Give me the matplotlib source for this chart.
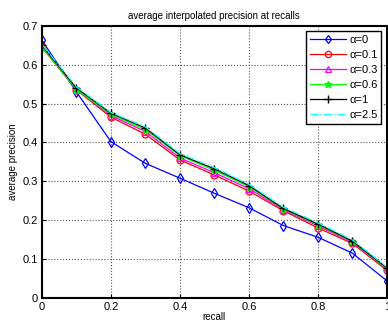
import matplotlib
matplotlib.use("Agg")
import matplotlib.pyplot as plt

plt.rcParams['font.family'] = ['Liberation Sans', 'DejaVu Sans']

recall = [0, 0.1, 0.2, 0.3, 0.4, 0.5, 0.6, 0.7, 0.8, 0.9, 1.0]
p_a0 = [0.663, 0.530, 0.402, 0.346, 0.308, 0.269, 0.232, 0.186, 0.156, 0.115, 0.044]
p_a01 = [0.645, 0.535, 0.465, 0.421, 0.355, 0.316, 0.275, 0.224, 0.180, 0.140, 0.071]
p_a03 = [0.647, 0.537, 0.469, 0.428, 0.360, 0.322, 0.281, 0.227, 0.185, 0.143, 0.074]
p_a06 = [0.646, 0.536, 0.472, 0.433, 0.366, 0.328, 0.286, 0.229, 0.188, 0.145, 0.075]
p_a1 = [0.650, 0.540, 0.475, 0.437, 0.368, 0.332, 0.289, 0.230, 0.190, 0.146, 0.077]
p_a25 = [0.652, 0.543, 0.477, 0.440, 0.371, 0.335, 0.292, 0.233, 0.193, 0.149, 0.079]
labels = ['α=0', 'α=0.1', 'α=0.3', 'α=0.6', 'α=1', 'α=2.5']
xticks = [0, 0.2, 0.4, 0.6, 0.8, 1]
yticks = [0, 0.1, 0.2, 0.3, 0.4, 0.5, 0.6, 0.7]

fig = plt.figure(figsize=(3.88, 3.23), dpi=100)
ax = fig.add_axes([0.108, 0.078, 0.889, 0.842])

ax.plot(recall, p_a0, color='blue', marker='d', mfc='none', ms=5, mew=0.9, lw=0.9, label=labels[0])
ax.plot(recall, p_a01, color='red', marker='o', mfc='none', ms=5, mew=0.9, lw=0.9, label=labels[1])
ax.plot(recall, p_a03, color='magenta', marker='^', mfc='none', ms=5, mew=0.9, lw=0.9, label=labels[2])
ax.plot(recall, p_a06, color='#00ff00', marker='*', ms=5, lw=0.9, label=labels[3])
ax.plot(recall, p_a1, color='black', marker='+', ms=6, mew=1.0, lw=0.9, label=labels[4])
ax.plot(recall, p_a25, color='cyan', ls='-.', lw=0.9, label=labels[5])

ax.set_xlim(0, 1)
ax.set_ylim(0, 0.7)
ax.set_xticks(xticks)
ax.set_xticklabels(['0', '0.2', '0.4', '0.6', '0.8', '1'])
ax.set_yticks(yticks)
ax.set_yticklabels(['0', '0.1', '0.2', '0.3', '0.4', '0.5', '0.6', '0.7'])
ax.tick_params(labelsize=8, direction='in', length=3, width=0.8, pad=3)
ax.grid(True, ls=':', color='#555555', lw=0.8)
for s in ax.spines.values():
    s.set_linewidth(1.5)
ax.set_title('average interpolated precision at recalls', fontsize=7, pad=5)
ax.set_xlabel('recall', fontsize=7, labelpad=0)
ax.set_ylabel('average precision', fontsize=7, labelpad=3)

leg = ax.legend(loc='upper right', fontsize=8, handlelength=3.2, fancybox=False,
                framealpha=1, edgecolor='black', borderpad=0.35, labelspacing=0.45,
                handletextpad=0.3, borderaxespad=0.5, markerscale=0.9)
leg.get_frame().set_linewidth(1.0)

fig.savefig('out.png', dpi=100)
